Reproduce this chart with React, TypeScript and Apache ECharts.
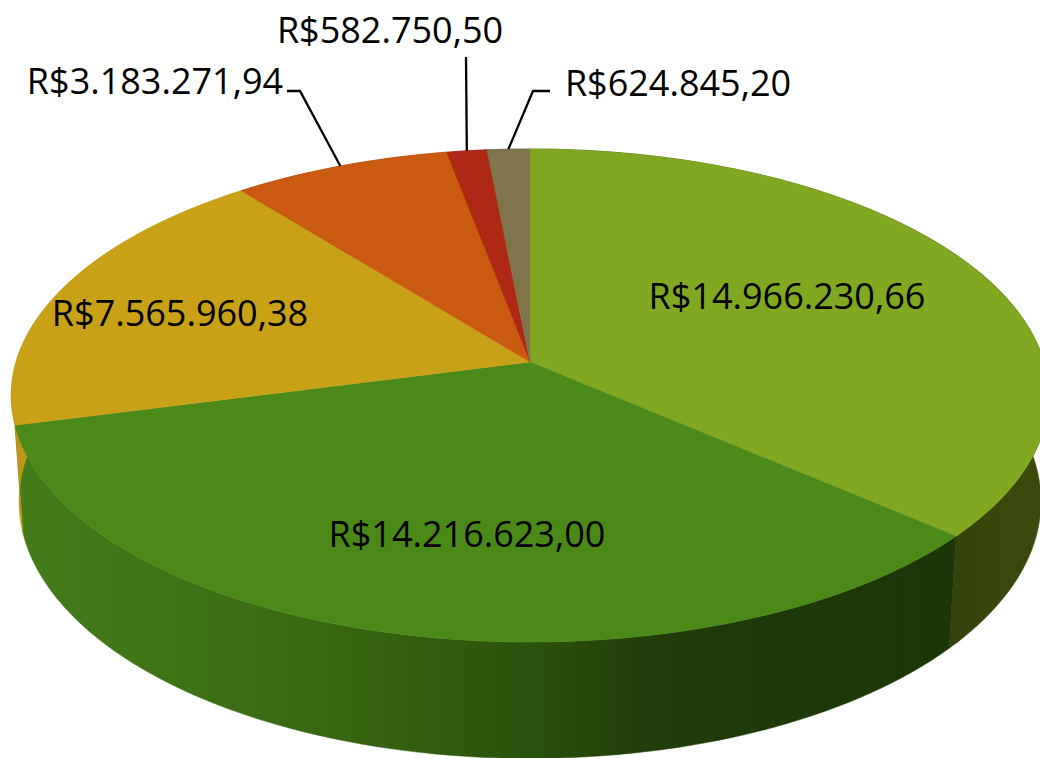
import React, { useEffect, useRef } from "react";
import * as echarts from "echarts";

const CATEGORIES = ["Fatia 1", "Fatia 2", "Fatia 3", "Fatia 4", "Fatia 5", "Fatia 6"];
const VALUES = [14966230.66, 14216623.0, 7565960.38, 3183271.94, 582750.5, 624845.2];
const LABELS = [
  "R$14.966.230,66",
  "R$14.216.623,00",
  "R$7.565.960,38",
  "R$3.183.271,94",
  "R$582.750,50",
  "R$624.845,20",
];
const TOP_COLORS = ["#80A820", "#4A8A19", "#C9A116", "#CA5A10", "#AD2815", "#80744A"];
const LABEL_POS: number[][] = [
  [787, 295],
  [467, 533],
  [180, 312],
  [155, 80],
  [390, 29],
  [678, 82],
];
const ELBOWS: (number[] | null)[] = [null, null, null, [287, 91, 300, 91], [466, 57, 466, 57], [550, 91, 533, 91]];

// perspective projection of the pie disc
const CX = 530, CY = 362, K = 514, A = 192.8, C = -0.1359, E = 112, F = 0.0151;
function project(deg: number, depth: number): number[] {
  const t = (deg * Math.PI) / 180;
  const u = Math.sin(t), v = -Math.cos(t);
  const w = 1 + C * v + F * depth;
  return [CX + (K * u) / w, (CY + A * v + E * depth) / w];
}
const TOTAL = VALUES.reduce((a, b) => a + b, 0);
function angles(i: number): number[] {
  let s = 0;
  for (let j = 0; j < i; j++) s += VALUES[j];
  return [(s / TOTAL) * 360, ((s + VALUES[i]) / TOTAL) * 360];
}
function arc(a0: number, a1: number, depth: number): number[][] {
  const n = Math.max(2, Math.ceil((a1 - a0) / 1.5));
  const pts: number[][] = [];
  for (let i = 0; i <= n; i++) pts.push(project(a0 + ((a1 - a0) * i) / n, depth));
  return pts;
}
const sideFill = (stops: [number, string][]) =>
  new echarts.graphic.LinearGradient(
    0, 0, 1040, 0,
    stops.map(([offset, color]) => ({ offset: offset / 1040, color })),
    true
  );
const SIDE_FILLS: any[] = [
  sideFill([[940, "#34420C"], [1040, "#3B4B0C"]]),
  sideFill([[20, "#447C1A"], [140, "#407518"], [300, "#386A14"], [400, "#33600F"], [530, "#2B520D"], [640, "#213F0A"], [720, "#1D3A08"], [950, "#1C3707"]]),
  sideFill([[0, "#B58E14"], [30, "#C09A15"]]),
  "#8A3E0B", "#7A1C0E", "#5A5234",
];

function renderSide(params: any) {
  const [a0, a1] = angles(params.dataIndex);
  const pts = arc(a0, a1, 0).concat(arc(a0, a1, 1).reverse());
  const fill = SIDE_FILLS[params.dataIndex];
  return { type: "polygon", shape: { points: pts }, style: { fill, stroke: fill, lineWidth: 0.5 } };
}
function renderTop(params: any) {
  const i = params.dataIndex;
  const [a0, a1] = angles(i);
  const pts = [[CX, CY]].concat(arc(a0, a1, 0));
  return { type: "polygon", shape: { points: pts }, style: { fill: TOP_COLORS[i], stroke: TOP_COLORS[i], lineWidth: 0.5 } };
}
function renderLabel(params: any) {
  const i = params.dataIndex;
  const [a0, a1] = angles(i);
  const children: any[] = [];
  const elbow = ELBOWS[i];
  if (elbow) {
    const rim = project((a0 + a1) / 2, 0);
    children.push({
      type: "polyline",
      shape: { points: [[elbow[0], elbow[1]], [elbow[2], elbow[3]], rim] },
      style: { fill: "none", stroke: "#000000", lineWidth: 2.3 },
    });
  }
  children.push({
    type: "text",
    style: {
      text: LABELS[i],
      x: LABEL_POS[i][0],
      y: LABEL_POS[i][1],
      align: "center",
      verticalAlign: "middle",
      fill: "#000000",
      font: '36px "Open Sans"',
    },
  });
  return { type: "group", children };
}

export default function App() {
  const ref = useRef<HTMLDivElement>(null);
  useEffect(() => {
    const chart = echarts.init(ref.current!, undefined, { renderer: "svg" });
    const data = VALUES.map((value, i) => ({ name: CATEGORIES[i], value }));
    const base = { type: "custom", coordinateSystem: "none", silent: true, data, clip: false };
    chart.setOption({
      animation: false,
      backgroundColor: "#FFFFFF",
      series: [
        { ...base, z: 1, renderItem: renderSide },
        { ...base, z: 2, renderItem: renderTop },
        { ...base, z: 3, renderItem: renderLabel },
      ],
    });
    return () => chart.dispose();
  }, []);
  return <div ref={ref} style={{ position: "fixed", left: 0, top: 0, width: 1040, height: 758 }} />;
}
